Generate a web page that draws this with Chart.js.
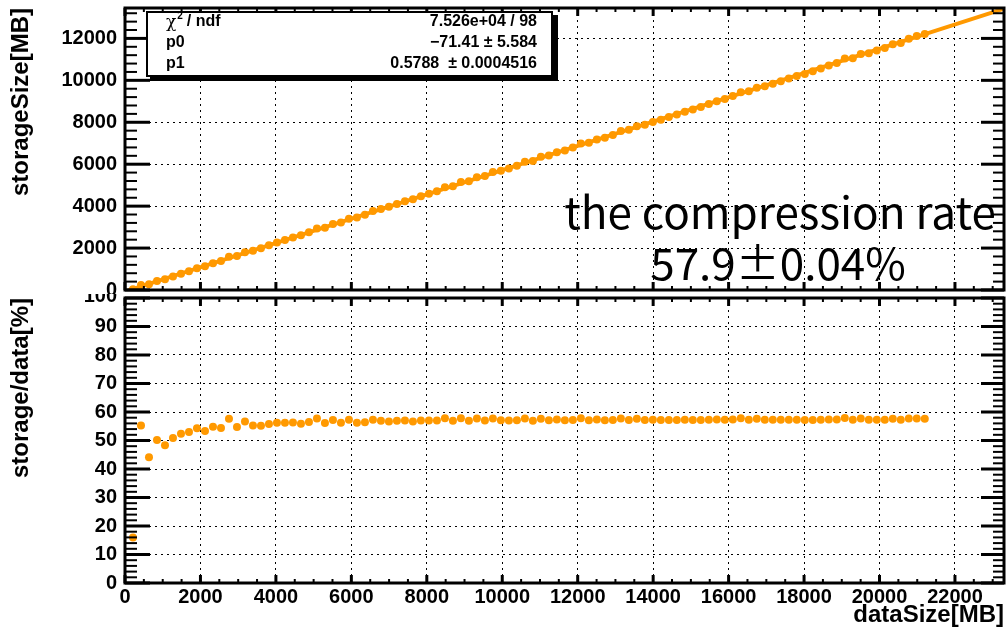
<!DOCTYPE html>
<html>
<head>
<meta charset="utf-8">
<script src="https://cdn.jsdelivr.net/npm/chart.js@4.4.1/dist/chart.umd.min.js"></script>
<style>
  html, body { margin: 0; padding: 0; background: #fff; }
  #wrap { position: relative; width: 1008px; height: 630px; overflow: hidden; }
  canvas { position: absolute; left: 0; }
  #top-chart { top: 0; }
  #ratio-chart { top: 294px; }
</style>
</head>
<body>
<div id="wrap">
  <canvas id="top-chart" width="1008" height="294"></canvas>
  <canvas id="ratio-chart" width="1008" height="336"></canvas>
</div>
<script>
// --- Data ---
const dataSize = [212, 424, 636, 848, 1060, 1272, 1484, 1696, 1908, 2120,
  2332, 2544, 2756, 2968, 3180, 3392, 3604, 3816, 4028, 4240,
  4452, 4664, 4876, 5088, 5300, 5512, 5724, 5936, 6148, 6360,
  6572, 6784, 6996, 7208, 7420, 7632, 7844, 8056, 8268, 8480,
  8692, 8904, 9116, 9328, 9540, 9752, 9964, 10176, 10388, 10600,
  10812, 11024, 11236, 11448, 11660, 11872, 12084, 12296, 12508, 12720,
  12932, 13144, 13356, 13568, 13780, 13992, 14204, 14416, 14628, 14840,
  15052, 15264, 15476, 15688, 15900, 16112, 16324, 16536, 16748, 16960,
  17172, 17384, 17596, 17808, 18020, 18232, 18444, 18656, 18868, 19080,
  19292, 19504, 19716, 19928, 20140, 20352, 20564, 20776, 20988, 21200];

const storageSize = [34, 234, 280, 426, 512, 647, 778, 899, 1036, 1130,
  1278, 1384, 1587, 1623, 1803, 1876, 1989, 2129, 2264, 2383,
  2506, 2607, 2755, 2936, 2973, 3153, 3217, 3401, 3455, 3587,
  3766, 3860, 3967, 4101, 4229, 4327, 4471, 4592, 4713, 4901,
  4946, 5147, 5187, 5382, 5438, 5627, 5689, 5800, 5932, 6116,
  6152, 6350, 6416, 6571, 6658, 6791, 6985, 7021, 7180, 7263,
  7397, 7584, 7640, 7815, 7882, 8017, 8125, 8246, 8367, 8503,
  8610, 8731, 8868, 9005, 9111, 9248, 9435, 9475, 9647, 9718,
  9840, 9961, 10082, 10204, 10307, 10429, 10568, 10709, 10830, 11047,
  11054, 11254, 11297, 11419, 11540, 11723, 11783, 11988, 12110, 12211];

const ratio = [16.0, 55.3, 44.1, 50.2, 48.3, 50.9, 52.4, 53.0, 54.3, 53.3,
  54.8, 54.4, 57.6, 54.7, 56.7, 55.3, 55.2, 55.8, 56.2, 56.2,
  56.3, 55.9, 56.5, 57.7, 56.1, 57.2, 56.2, 57.3, 56.2, 56.4,
  57.3, 56.9, 56.7, 56.9, 57.0, 56.7, 57.0, 57.0, 57.0, 57.8,
  56.9, 57.8, 56.9, 57.7, 57.0, 57.7, 57.1, 57.0, 57.1, 57.7,
  56.9, 57.6, 57.1, 57.4, 57.1, 57.2, 57.8, 57.1, 57.4, 57.1,
  57.2, 57.7, 57.2, 57.6, 57.2, 57.3, 57.2, 57.2, 57.2, 57.3,
  57.2, 57.2, 57.3, 57.4, 57.3, 57.4, 57.8, 57.3, 57.6, 57.3,
  57.3, 57.3, 57.3, 57.3, 57.2, 57.2, 57.3, 57.4, 57.4, 57.9,
  57.3, 57.7, 57.3, 57.3, 57.3, 57.6, 57.3, 57.7, 57.7, 57.6];

// fit result (pol1)
const fitP0 = -71.41;
const fitP1 = 0.5788;
const fitRange = [0, 23300];

// ticks
const xTickValues = [0, 2000, 4000, 6000, 8000, 10000, 12000, 14000, 16000, 18000, 20000, 22000];
const storageTickValues = [0, 2000, 4000, 6000, 8000, 10000, 12000];
const ratioTickValues = [0, 10, 20, 30, 40, 50, 60, 70, 80, 90, 100];

const statsRows = [
  ['χ', ' / ndf', '7.526e+04 / 98'],
  ['p0', '', '\u221271.41 \u00b1 5.584'],
  ['p1', '', '0.5788  \u00b1 0.0004516']
];
const noteLines = ['the compression rate', '57.9\u00b10.04%'];

// --- Style ---
const ORANGE = 'rgb(255,153,0)';
const LABEL_FONT = { family: 'Liberation Sans', size: 20, weight: 'bold' };
const TITLE_FONT = { family: 'Liberation Sans', size: 24, weight: 'bold' };
Chart.defaults.font.family = 'Liberation Sans';
Chart.defaults.color = '#000';

const AXIS_LEFT = 125;

function fixedTicks(values) {
  return scale => { scale.ticks = values.map(v => ({ value: v })); };
}

// labels at the pad boundary are cut in half, like in the original
function edgeLabel(v, hidden) {
  return hidden.includes(v) ? '' : String(v);
}

// ROOT-like frame with inward tick marks on all four sides
const frameTicks = {
  id: 'frameTicks',
  afterDraw(chart, args, opts) {
    const { ctx, chartArea: a, scales: { x, y } } = chart;
    ctx.save();
    ctx.strokeStyle = '#000';
    const mark = (w, x1, y1, x2, y2) => {
      ctx.lineWidth = w;
      ctx.beginPath(); ctx.moveTo(x1, y1); ctx.lineTo(x2, y2); ctx.stroke();
    };
    for (let v = 0; v <= x.max + 1e-6; v += opts.xMinor) {
      const px = x.getPixelForValue(v);
      const major = Math.abs(v % opts.xMajor) < 1e-6;
      const len = major ? 8 : 4;
      mark(major ? 3 : 2, px, a.bottom, px, a.bottom - len);
      mark(major ? 3 : 2, px, a.top, px, a.top + len);
    }
    for (let v = 0; v <= y.max + 1e-6; v += opts.yMinor) {
      const py = y.getPixelForValue(v);
      const major = Math.abs(v % opts.yMajor) < 1e-6;
      mark(major ? 3 : 2, a.left, py, a.left + (major ? 25 : 12), py);
      mark(major ? 3 : 2, a.right, py, a.right - (major ? 23 : 11), py);
    }
    ctx.lineWidth = 3;
    ctx.strokeRect(a.left, a.top, a.right - a.left, a.bottom - a.top);

    // half-visible label on the shared edge
    if (opts.edgeLabel) {
      const py = y.getPixelForValue(opts.edgeLabel.value);
      ctx.font = 'bold 20px "Liberation Sans"';
      ctx.fillStyle = '#000';
      ctx.textAlign = 'right';
      ctx.textBaseline = 'middle';
      ctx.fillText(String(opts.edgeLabel.value), a.left - 8, py + opts.edgeLabel.shift);
    }
    ctx.restore();
  }
};

// fit statistics box + the big note
const fitInfo = {
  id: 'fitInfo',
  afterDraw(chart) {
    const { ctx } = chart;
    ctx.save();
    // box with shadow
    ctx.fillStyle = '#000';
    ctx.fillRect(150, 15, 408, 66);
    ctx.fillStyle = '#fff';
    ctx.fillRect(147, 12, 405, 64);
    ctx.lineWidth = 2;
    ctx.strokeStyle = '#000';
    ctx.strokeRect(147, 12, 405, 64);

    ctx.fillStyle = '#000';
    ctx.textBaseline = 'middle';
    const rowY = [22, 43, 64];
    statsRows.forEach((row, i) => {
      ctx.textAlign = 'left';
      ctx.font = 'bold 16px "Liberation Sans"';
      if (row[1]) {
        ctx.font = '17px "DejaVu Serif"';
        ctx.fillText(row[0], 166, rowY[i] + 1);
        let w = ctx.measureText(row[0]).width;
        ctx.font = 'bold 10px "Liberation Sans"';
        ctx.fillText('2', 166 + w + 1, rowY[i] - 6);
        ctx.font = 'bold 16px "Liberation Sans"';
        ctx.fillText(row[1], 166 + w + 6, rowY[i]);
      } else {
        ctx.fillText(row[0], 166, rowY[i]);
      }
      ctx.textAlign = 'right';
      ctx.fillText(row[2], 537, rowY[i]);
    });

    ctx.font = '44px "Noto Sans CJK JP"';
    ctx.textAlign = 'center';
    ctx.textBaseline = 'alphabetic';
    ctx.fillText(noteLines[0], 780, 229);
    ctx.fillText(noteLines[1], 778, 280);
    ctx.restore();
  }
};

function baseOptions() {
  return {
    responsive: false,
    animation: false,
    devicePixelRatio: 1,
    events: [],
    plugins: { legend: { display: false }, tooltip: { enabled: false } }
  };
}

const gridStyle = { color: '#000', lineWidth: 1, drawTicks: false };
const dotted = { display: false, dash: [2, 4] };

// --- Top panel: storageSize vs dataSize ---
const topOpts = baseOptions();
topOpts.layout = { padding: { top: 8, right: 3, bottom: 0, left: 0 } };
topOpts.plugins.frameTicks = { xMajor: 2000, xMinor: 500, yMajor: 2000, yMinor: 400, edgeLabel: { value: 0, shift: 0 } };
topOpts.scales = {
  x: {
    type: 'linear', min: fitRange[0], max: fitRange[1],
    afterBuildTicks: fixedTicks(xTickValues),
    ticks: { display: false },
    grid: gridStyle, border: dotted,
    afterFit: s => { s.height = 0; s.paddingLeft = 0; s.paddingRight = 0; }
  },
  y: {
    type: 'linear', min: 0, max: 13450,
    afterBuildTicks: fixedTicks(storageTickValues),
    ticks: { font: LABEL_FONT, padding: 8, callback: v => edgeLabel(v, [0]) },
    grid: gridStyle, border: dotted,
    title: { display: true, text: 'storageSize[MB]', align: 'end', font: TITLE_FONT, padding: { top: 7, bottom: 0 } },
    afterFit: s => { s.width = AXIS_LEFT; s.paddingTop = 0; s.paddingBottom = 0; }
  }
};

new Chart(document.getElementById('top-chart'), {
  type: 'scatter',
  data: {
    datasets: [
      {
        label: 'fit',
        data: fitRange.map(x => ({ x: x, y: fitP0 + fitP1 * x })),
        showLine: true, borderColor: ORANGE, borderWidth: 4,
        pointRadius: 0
      },
      {
        label: 'storageSize',
        data: dataSize.map((x, i) => ({ x: x, y: storageSize[i] })),
        pointRadius: 4, pointBackgroundColor: ORANGE, pointBorderWidth: 0
      }
    ]
  },
  options: topOpts,
  plugins: [frameTicks, fitInfo]
});

// --- Bottom panel: storage/data ratio ---
const ratioOpts = baseOptions();
ratioOpts.layout = { padding: { top: 0, right: 3, bottom: 0, left: 0 } };
ratioOpts.plugins.frameTicks = { xMajor: 2000, xMinor: 500, yMajor: 10, yMinor: 2, edgeLabel: { value: 100, shift: -2 } };
ratioOpts.scales = {
  x: {
    type: 'linear', min: fitRange[0], max: fitRange[1],
    afterBuildTicks: fixedTicks(xTickValues),
    ticks: { font: LABEL_FONT, padding: 2, maxRotation: 0, callback: v => String(v) },
    grid: gridStyle, border: dotted,
    title: { display: true, text: 'dataSize[MB]', align: 'end', font: TITLE_FONT, padding: 0 },
    afterFit: s => { s.height = 47; s.paddingLeft = 0; s.paddingRight = 0; }
  },
  y: {
    type: 'linear', min: 0, max: 100,
    afterBuildTicks: fixedTicks(ratioTickValues),
    ticks: { font: LABEL_FONT, padding: 8, callback: v => edgeLabel(v, [100]) },
    grid: gridStyle, border: dotted,
    title: { display: true, text: 'storage/data[%]', align: 'end', font: TITLE_FONT, padding: { top: 7, bottom: 0 } },
    afterFit: s => { s.width = AXIS_LEFT; s.paddingTop = 0; s.paddingBottom = 0; }
  }
};

new Chart(document.getElementById('ratio-chart'), {
  type: 'scatter',
  data: {
    datasets: [{
      label: 'storage/data',
      data: dataSize.map((x, i) => ({ x: x, y: ratio[i] })),
      pointRadius: 4, pointBackgroundColor: ORANGE, pointBorderWidth: 0
    }]
  },
  options: ratioOpts,
  plugins: [frameTicks]
});
</script>
</body>
</html>
